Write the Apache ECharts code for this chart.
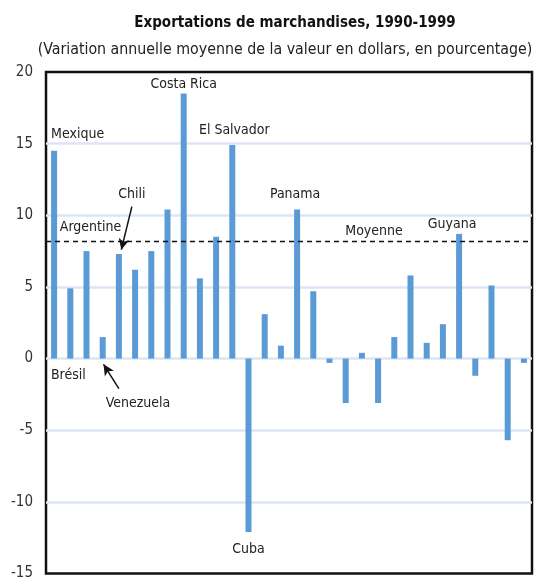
<!DOCTYPE html>
<html>
<head>
<meta charset="utf-8">
<script src="https://cdn.jsdelivr.net/npm/echarts@6/dist/echarts.min.js"></script>
<style>
  html, body { margin: 0; padding: 0; background: #fff; }
  #chart { width: 537px; height: 581px; }
</style>
</head>
<body>
<div id="chart"></div>
<script>
const FONT = '"DejaVu Sans Condensed", "Liberation Sans", sans-serif';

const countries = [
  "Mexique", "Brésil", "Argentine", "Venezuela", "Chili", "Pays 6", "Pays 7", "Pays 8",
  "Costa Rica", "Pays 10", "Pays 11", "El Salvador", "Cuba", "Pays 14", "Pays 15",
  "Panama", "Pays 17", "Pays 18", "Pays 19", "Pays 20", "Pays 21", "Pays 22", "Pays 23",
  "Pays 24", "Pays 25", "Guyana", "Pays 27", "Pays 28", "Pays 29", "Pays 30"
];
const values = [
  14.5, 4.9, 7.5, 1.5, 7.3, 6.2, 7.5, 10.4, 18.5, 5.6, 8.5, 14.9, -12.1, 3.1, 0.9,
  10.4, 4.7, -0.3, -3.1, 0.4, -3.1, 1.5, 5.8, 1.1, 2.4, 8.7, -1.2, 5.1, -5.7, -0.3
];
const moyenne = 8.2;
const yTicks = [-15, -10, -5, 0, 5, 10, 15, 20];

// names written next to their bar
const labelled = ["Mexique", "Brésil", "Argentine", "Venezuela", "Chili",
  "Costa Rica", "El Salvador", "Cuba", "Panama", "Guyana"];

// arrows, in (bar index, value) units: from text to bar
const arrowChili = [[4.8, 10.6], [4.15, 7.6]];
const arrowVenezuela = [[4.0, -2.1], [3.05, -0.4]];
const moyenneLabelAt = [19.75, 8.85];

const labelPlacement = {
  "Mexique": { position: "top", align: "left", distance: 9, offset: [-3, 0] },
  "Brésil": { position: "bottom", distance: 10, offset: [-2, 0] },
  "Argentine": { position: "top", distance: 17, offset: [4, 0] },
  "Venezuela": { position: "bottom", align: "left", distance: 38, offset: [3, 0] },
  "Chili": { position: "top", offset: [13, -48] },
  "Costa Rica": { position: "top", distance: 2 },
  "El Salvador": { position: "top", distance: 8, offset: [2, 0] },
  "Cuba": { position: "bottom", distance: 10 },
  "Panama": { position: "top", distance: 8, offset: [-2, 0] },
  "Guyana": { position: "top", distance: 3, offset: [-7, 0] }
};

const barData = values.map((v, i) => {
  const name = countries[i];
  if (!labelled.includes(name)) return v;
  return {
    value: v,
    label: Object.assign({ show: true, formatter: name }, labelPlacement[name])
  };
});

const chart = echarts.init(document.getElementById("chart"));

chart.setOption({
  animation: false,
  textStyle: { fontFamily: FONT },
  title: [
    {
      text: "Exportations de marchandises, 1990-1999",
      left: 290, top: 11, textAlign: "center",
      textStyle: { fontFamily: FONT, fontSize: 15, fontWeight: "bold", color: "#111" }
    },
    {
      text: "(Variation annuelle moyenne de la valeur en dollars, en pourcentage)",
      left: 280, top: 37, textAlign: "center",
      textStyle: { fontFamily: FONT, fontSize: 15.8, fontWeight: "normal", color: "#222" }
    }
  ],
  grid: {
    left: 46, right: 5, top: 72, bottom: 3,
    show: true, borderColor: "#111", borderWidth: 2.5, backgroundColor: "transparent"
  },
  xAxis: [
    {
      type: "category",
      data: countries,
      axisLine: { show: false },
      axisTick: { show: false },
      axisLabel: { show: false }
    },
    {
      type: "value",
      min: -0.5, max: 29.5,
      show: false
    }
  ],
  yAxis: {
    type: "value",
    min: yTicks[0],
    max: yTicks[yTicks.length - 1],
    interval: 5,
    axisLine: { show: false },
    axisTick: { show: false },
    axisLabel: { fontFamily: FONT, fontSize: 15, color: "#333", margin: 13 },
    splitLine: {
      showMinLine: false, showMaxLine: false,
      lineStyle: { color: "#dce6f2", width: 2.5 }
    }
  },
  series: [
    {
      type: "bar",
      data: barData,
      barWidth: 6,
      itemStyle: { color: "#5b9bd5" },
      label: { fontFamily: FONT, fontSize: 14, color: "#222" },
      z: 3
    },
    {
      type: "line",
      xAxisIndex: 1,
      data: [],
      silent: true,
      markLine: {
        silent: true,
        animation: false,
        label: { show: false },
        data: [
          [
            { coord: [-0.5, moyenne], symbol: "none" },
            { coord: [29.5, moyenne], symbol: "none",
              lineStyle: { type: [5, 4], color: "#111", width: 1.3 } }
          ],
          [
            { coord: arrowChili[0], symbol: "none" },
            { coord: arrowChili[1], symbol: "arrow", symbolSize: [8, 11],
              lineStyle: { type: "solid", color: "#111", width: 1.5 } }
          ],
          [
            { coord: arrowVenezuela[0], symbol: "none" },
            { coord: arrowVenezuela[1], symbol: "arrow", symbolSize: [8, 11],
              lineStyle: { type: "solid", color: "#111", width: 1.5 } }
          ]
        ]
      },
      markPoint: {
        silent: true,
        symbol: "circle",
        symbolSize: 0,
        label: { show: true, fontFamily: FONT, fontSize: 14, color: "#222", formatter: "Moyenne" },
        data: [{ coord: moyenneLabelAt }]
      },
      z: 4
    }
  ]
});
</script>
</body>
</html>
